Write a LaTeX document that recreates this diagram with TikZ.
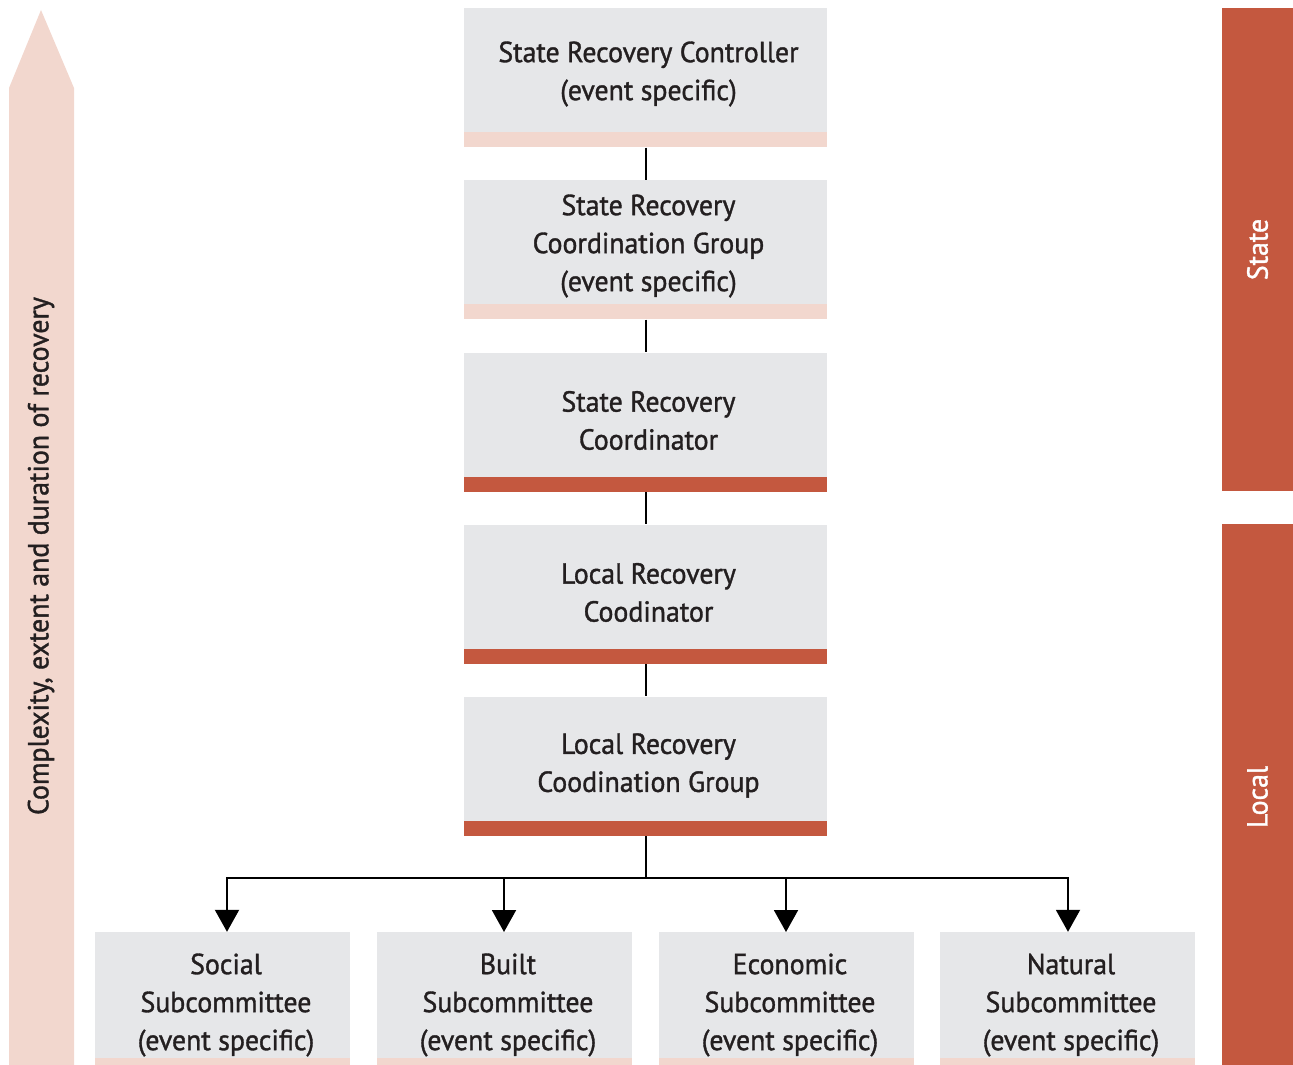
\documentclass[tikz,border=0pt]{standalone}
\usepackage{fontspec}
\setmainfont{PT Sans}[FakeStretch=0.96,FakeBold=1.2]
\usetikzlibrary{arrows.meta,positioning}
\definecolor{boxgray}{HTML}{E6E7E9}
\definecolor{lightpink}{HTML}{F2D7CE}
\definecolor{rust}{HTML}{C4583F}
\definecolor{ink}{HTML}{231F20}
\begin{document}
\begin{tikzpicture}[x=1pt,y=-1pt,
  bigfont/.style={font=\fontsize{29}{38}\selectfont},
  box/.style={fill=boxgray,draw=none,inner sep=0pt},
  txt/.style={inner sep=0pt,text=ink,align=center,bigfont},
  topbox/.style={box,minimum width=363pt,minimum height=124pt},
  subbox/.style={box,minimum width=255pt,minimum height=126pt},
  strip/.style={draw=none,inner sep=0pt,minimum height=15pt,minimum width=363pt},
  conn/.style={draw=black,line width=2pt},
  arr/.style={conn,-{Triangle[width=24pt,length=22pt]}},
  side/.style={fill=rust,draw=none,inner sep=0pt,minimum width=71pt}
]
\useasboundingbox (0,0) rectangle (1293,1065);
% left arrow
\fill[lightpink] (9,1065) -- (9,88) -- (41,10) -- (74,88) -- (74,1065) -- cycle;
\node[rotate=90,txt] (lbl) at (41,556) {Complexity, extent and duration of recovery};
% side bars
\node[side,minimum height=483pt] (state) at (1257.5,249.5) {};
\node[rotate=90,txt,text=white] (statet) at (1257.5,249.5) {State};
\node[side,minimum height=541pt] (local) at (1257.5,794.5) {};
\node[rotate=90,txt,text=white] (localt) at (1257.5,797) {Local};
% central boxes
\node[topbox] (b1) at (645.5,70) {};
\node[txt] (t1) at ([xshift=3pt,yshift=-4pt]b1.center) {State Recovery Controller\\(event specific)};
\node[strip,fill=lightpink,below=0pt of b1] (s1) {};
\node[topbox] (b2) at (645.5,242) {};
\node[txt] (t2) at ([xshift=3pt,yshift=-4pt]b2.center) {State Recovery\\Coordination Group\\(event specific)};
\node[strip,fill=lightpink,below=0pt of b2] (s2) {};
\node[topbox] (b3) at (645.5,414.5) {};
\node[txt] (t3) at ([xshift=3pt,yshift=-6pt]b3.center) {State Recovery\\Coordinator};
\node[strip,fill=rust,below=0pt of b3] (s3) {};
\node[topbox] (b4) at (645.5,586.5) {};
\node[txt] (t4) at ([xshift=3pt,yshift=-6pt]b4.center) {Local Recovery\\Coodinator};
\node[strip,fill=rust,below=0pt of b4] (s4) {};
\node[topbox] (b5) at (645.5,758.5) {};
\node[txt] (t5) at ([xshift=3pt,yshift=-7pt]b5.center) {Local Recovery\\Coodination Group};
\node[strip,fill=rust,below=0pt of b5] (s5) {};
\draw[conn] (s1.south) -- (b2.north);
\draw[conn] (s2.south) -- (b3.north);
\draw[conn] (s3.south) -- (b4.north);
\draw[conn] (s4.south) -- (b5.north);
% sub boxes
\node[subbox] (c1) at (222.5,995) {};
\node[subbox] (c2) at (504.5,995) {};
\node[subbox] (c3) at (786.5,995) {};
\node[subbox] (c4) at (1067.5,995) {};
\node[txt] (d1) at ([xshift=3.5pt,yshift=-10pt]c1.center) {Social\\Subcommittee\\(event specific)};
\node[txt] (d2) at ([xshift=3.5pt,yshift=-10pt]c2.center) {Built\\Subcommittee\\(event specific)};
\node[txt] (d3) at ([xshift=3.5pt,yshift=-10pt]c3.center) {Economic\\Subcommittee\\(event specific)};
\node[txt] (d4) at ([xshift=3.5pt,yshift=-10pt]c4.center) {Natural\\Subcommittee\\(event specific)};
\foreach \c in {c1,c2,c3,c4}{
  \fill[lightpink] ([yshift=-7pt]\c.south west) rectangle (\c.south east);
}
\coordinate (j) at (645.5,878);
\coordinate (jl) at (227,878);
\coordinate (jr) at (1068,878);
\draw[conn] (s5.south) -- (j);
\draw[conn] ([xshift=-1pt]jl) -- ([xshift=1pt]jr);
\draw[arr] (jl) -- (jl |- c1.north);
\draw[arr] (504,878) -- (504,932);
\draw[arr] (786,878) -- (786,932);
\draw[arr] (jr) -- (jr |- c4.north);
\end{tikzpicture}
\end{document}
